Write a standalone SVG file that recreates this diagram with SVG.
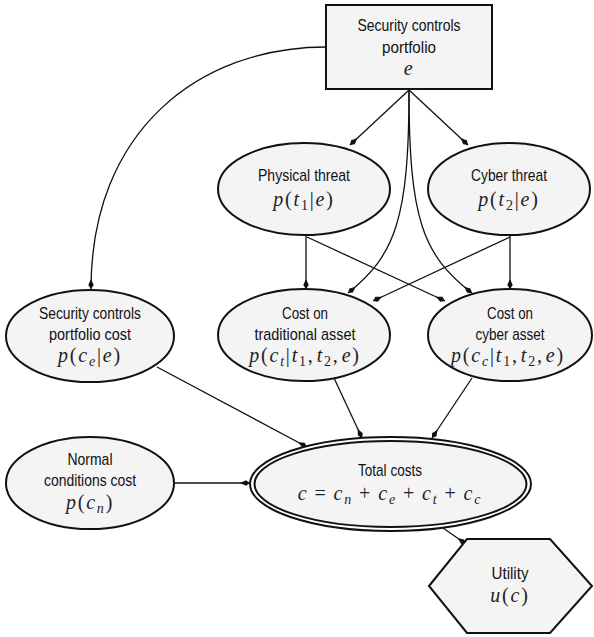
<svg xmlns="http://www.w3.org/2000/svg" width="594" height="637" viewBox="0 0 594 637">
  <style>
    .n { fill:#f4f4f4; stroke:#111; stroke-width:2 }
    .t { font-family:"Liberation Sans",Arial,sans-serif; font-size:17px; text-anchor:middle; fill:#111 }
    .m { font-family:"Liberation Serif","Times New Roman",serif; font-size:20px; text-anchor:middle; letter-spacing:1.8px; fill:#222 }
    .i { font-style:italic }
    .s { font-size:14px }
    .e { fill:none; stroke:#111; stroke-width:1.3; marker-end:url(#a) }
  </style>
  <defs>
    <marker id="a" viewBox="-11 -4 12 8" refX="0" refY="0" markerWidth="12" markerHeight="8" markerUnits="userSpaceOnUse" orient="auto">
      <path d="M0,0 L-4,-2.7 L-10,0 L-4,2.7 Z" fill="#111"/>
    </marker>
  </defs>
  <rect width="594" height="637" fill="#fff"/>

  <!-- connectors -->
  <g id="edges">
    <line class="e" x1="409" y1="90" x2="350" y2="145"/>
    <line class="e" x1="409" y1="90" x2="468" y2="145"/>
    <path class="e" d="M409,90 C409,220 395,255 348,293"/>
    <path class="e" d="M409,90 C409,220 423,255 472,293"/>
    <line class="e" x1="306" y1="236" x2="306" y2="289"/>
    <line class="e" x1="510" y1="236" x2="510" y2="289"/>
    <line class="e" x1="307" y1="237" x2="445" y2="301"/>
    <line class="e" x1="510" y1="237" x2="373" y2="301"/>
    <path class="e" d="M326,47 C200,47 91,130 91,289"/>
    <line class="e" x1="157" y1="367" x2="307" y2="447"/>
    <line class="e" x1="334" y1="378" x2="362" y2="438"/>
    <line class="e" x1="472" y1="378" x2="432" y2="438"/>
    <line class="e" x1="174" y1="483" x2="250" y2="483"/>
    <line class="e" x1="443" y1="528" x2="466" y2="544"/>
  </g>

  <!-- decision node -->
  <g id="portfolio">
    <rect class="n" x="326" y="5" width="166" height="84" stroke-width="2.5"/>
    <text class="t" x="409" y="31" textLength="103" lengthAdjust="spacingAndGlyphs">Security controls</text>
    <text class="t" x="409" y="52.5" textLength="54" lengthAdjust="spacingAndGlyphs">portfolio</text>
    <text class="m i" x="409" y="75">e</text>
  </g>

  <g id="physical-threat">
    <ellipse class="n" cx="304" cy="189" rx="86" ry="46"/>
    <text class="t" x="304" y="181" textLength="92" lengthAdjust="spacingAndGlyphs">Physical threat</text>
    <text class="m" x="304" y="206"><tspan class="i">p</tspan>(<tspan class="i">t</tspan><tspan class="s" dy="4">1</tspan><tspan dy="-4">|</tspan><tspan class="i">e</tspan>)</text>
  </g>

  <g id="cyber-threat">
    <ellipse class="n" cx="509" cy="189" rx="81" ry="46"/>
    <text class="t" x="509" y="181" textLength="76" lengthAdjust="spacingAndGlyphs">Cyber threat</text>
    <text class="m" x="509" y="206"><tspan class="i">p</tspan>(<tspan class="i">t</tspan><tspan class="s" dy="4">2</tspan><tspan dy="-4">|</tspan><tspan class="i">e</tspan>)</text>
  </g>

  <g id="portfolio-cost">
    <ellipse class="n" cx="90" cy="336" rx="84" ry="46"/>
    <text class="t" x="90" y="319" textLength="102" lengthAdjust="spacingAndGlyphs">Security controls</text>
    <text class="t" x="90" y="340" textLength="82" lengthAdjust="spacingAndGlyphs">portfolio cost</text>
    <text class="m" x="90" y="362"><tspan class="i">p</tspan>(<tspan class="i">c</tspan><tspan class="s i" dy="4">e</tspan><tspan dy="-4">|</tspan><tspan class="i">e</tspan>)</text>
  </g>

  <g id="traditional-cost">
    <ellipse class="n" cx="304" cy="335" rx="86" ry="46"/>
    <text class="t" x="305" y="319" textLength="46" lengthAdjust="spacingAndGlyphs">Cost on</text>
    <text class="t" x="305" y="340" textLength="101" lengthAdjust="spacingAndGlyphs">traditional asset</text>
    <text class="m" x="305" y="362"><tspan class="i">p</tspan>(<tspan class="i">c</tspan><tspan class="s i" dy="4">t</tspan><tspan dy="-4">|</tspan><tspan class="i">t</tspan><tspan class="s" dy="4">1</tspan><tspan dy="-4">,</tspan><tspan class="i" dx="2">t</tspan><tspan class="s" dy="4">2</tspan><tspan dy="-4">,</tspan><tspan class="i" dx="2">e</tspan>)</text>
  </g>

  <g id="cyber-cost">
    <ellipse class="n" cx="510" cy="335" rx="82" ry="46"/>
    <text class="t" x="510" y="319" textLength="46" lengthAdjust="spacingAndGlyphs">Cost on</text>
    <text class="t" x="510" y="340" textLength="69" lengthAdjust="spacingAndGlyphs">cyber asset</text>
    <text class="m" x="508" y="362"><tspan class="i">p</tspan>(<tspan class="i">c</tspan><tspan class="s i" dy="4">c</tspan><tspan dy="-4">|</tspan><tspan class="i">t</tspan><tspan class="s" dy="4">1</tspan><tspan dy="-4">,</tspan><tspan class="i" dx="2">t</tspan><tspan class="s" dy="4">2</tspan><tspan dy="-4">,</tspan><tspan class="i" dx="2">e</tspan>)</text>
  </g>

  <g id="normal-cost">
    <ellipse class="n" cx="90" cy="483" rx="84" ry="46"/>
    <text class="t" x="90" y="465" textLength="45" lengthAdjust="spacingAndGlyphs">Normal</text>
    <text class="t" x="90" y="486" textLength="92" lengthAdjust="spacingAndGlyphs">conditions cost</text>
    <text class="m" x="90" y="509"><tspan class="i">p</tspan>(<tspan class="i">c</tspan><tspan class="s i" dy="4">n</tspan><tspan dy="-4">)</tspan></text>
  </g>

  <g id="total-costs">
    <ellipse cx="390.5" cy="484" rx="140.5" ry="47" fill="#fff" stroke="#111" stroke-width="2"/>
    <ellipse class="n" cx="390.5" cy="484" rx="136" ry="43"/>
    <text class="t" x="390" y="476" textLength="64" lengthAdjust="spacingAndGlyphs">Total costs</text>
    <text class="m" x="390" y="500"><tspan class="i">c</tspan><tspan dx="6">=</tspan><tspan class="i" dx="6">c</tspan><tspan class="s i" dy="4">n</tspan><tspan dy="-4" dx="6">+</tspan><tspan class="i" dx="6">c</tspan><tspan class="s i" dy="4">e</tspan><tspan dy="-4" dx="6">+</tspan><tspan class="i" dx="6">c</tspan><tspan class="s i" dy="4">t</tspan><tspan dy="-4" dx="6">+</tspan><tspan class="i" dx="6">c</tspan><tspan class="s i" dy="4">c</tspan></text>
  </g>

  <g id="utility">
    <polygon class="n" points="429,586 467,539 550,539 592,586 550,633 467,633"/>
    <text class="t" x="510" y="579" textLength="37" lengthAdjust="spacingAndGlyphs">Utility</text>
    <text class="m" x="510" y="602"><tspan class="i">u</tspan>(<tspan class="i">c</tspan>)</text>
  </g>
</svg>
